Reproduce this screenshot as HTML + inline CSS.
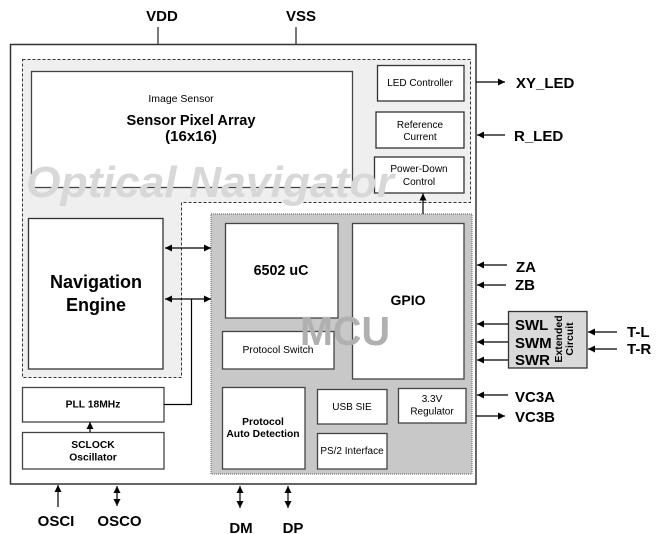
<!DOCTYPE html>
<html><head><meta charset="utf-8"><style>
html,body{margin:0;padding:0;background:#fff;}
svg{display:block;}
text{font-family:"Liberation Sans",Arial,sans-serif;fill:#000;}
.b{font-weight:bold;}
</style></head><body>
<svg width="659" height="534" viewBox="0 0 659 534" xmlns="http://www.w3.org/2000/svg">
<defs>
<marker id="ah" viewBox="0 0 10 10" refX="10" refY="5" markerWidth="7" markerHeight="7" markerUnits="userSpaceOnUse" orient="auto-start-reverse">
<path d="M0,0 L10,5 L0,10 z" fill="#000"/>
</marker>
</defs>
<!-- VDD VSS -->
<line x1="158" y1="27" x2="158" y2="44" stroke="#222" stroke-width="1.2"/>
<line x1="296" y1="27" x2="296" y2="44" stroke="#222" stroke-width="1.2"/>
<text x="162" y="21" class="b" font-size="15" text-anchor="middle">VDD</text>
<text x="301" y="21" class="b" font-size="15" text-anchor="middle">VSS</text>
<!-- outer box -->
<rect x="10.5" y="44.5" width="465.5" height="439.5" fill="#fff" stroke="#333" stroke-width="1.5"/>
<!-- optical navigator dashed region -->
<path d="M22.5,59.5 H470.5 V202.5 H181.5 V377.5 H22.5 Z" fill="#efefef" stroke="#333" stroke-width="1" stroke-dasharray="3,2"/>
<!-- sensor box -->
<rect x="31.5" y="71.5" width="321" height="116" fill="#fff" stroke="#444" stroke-width="1.3"/>
<text x="181" y="102" font-size="10.5" text-anchor="middle">Image Sensor</text>
<text x="191" y="125" class="b" font-size="15" text-anchor="middle" textLength="129" lengthAdjust="spacingAndGlyphs">Sensor Pixel Array</text>
<text x="191" y="141" class="b" font-size="15" text-anchor="middle">(16x16)</text>
<!-- right top boxes -->
<rect x="377.5" y="65.5" width="86.5" height="35.5" fill="#fff" stroke="#333" stroke-width="1.3"/>
<text x="420" y="86" font-size="10" text-anchor="middle">LED Controller</text>
<rect x="376" y="112" width="88" height="36" fill="#fff" stroke="#333" stroke-width="1.3"/>
<text x="420" y="128" font-size="10" text-anchor="middle">Reference</text>
<text x="420" y="140" font-size="10" text-anchor="middle">Current</text>
<rect x="374.5" y="157" width="89.5" height="36" fill="#fff" stroke="#333" stroke-width="1.3"/>
<text x="419" y="172" font-size="10" text-anchor="middle">Power-Down</text>
<text x="419" y="185" font-size="10" text-anchor="middle">Control</text>
<!-- watermark -->
<text x="26" y="197" class="b" font-style="italic" font-size="44" fill="#d8d8d8" style="fill:#d8d8d8" textLength="368" lengthAdjust="spacingAndGlyphs">Optical Navigator</text>
<!-- Navigation engine -->
<rect x="28.5" y="218.5" width="134.5" height="150.5" fill="#fff" stroke="#333" stroke-width="1.3"/>
<text x="96" y="288" class="b" font-size="18" text-anchor="middle">Navigation</text>
<text x="96" y="311" class="b" font-size="18" text-anchor="middle">Engine</text>
<!-- MCU -->
<rect x="211" y="214" width="261" height="260" fill="#c8c8c8" stroke="#777" stroke-width="1.2" stroke-dasharray="1,1"/>
<rect x="225.5" y="223.5" width="112.5" height="94.5" fill="#fff" stroke="#444" stroke-width="1.3"/>
<text x="281" y="275" class="b" font-size="14.3" text-anchor="middle">6502 uC</text>
<rect x="222.5" y="331.5" width="111.5" height="37.5" fill="#fff" stroke="#444" stroke-width="1.3"/>
<text x="278" y="353" font-size="10.3" text-anchor="middle">Protocol Switch</text>
<rect x="352.5" y="223.5" width="111.5" height="155.5" fill="#fff" stroke="#444" stroke-width="1.3"/>
<text x="408" y="305" class="b" font-size="14" text-anchor="middle">GPIO</text>
<text x="345" y="345" class="b" font-size="41" text-anchor="middle" fill="#b0b0b0" style="fill:#b0b0b0" textLength="90" lengthAdjust="spacingAndGlyphs">MCU</text>
<rect x="222.5" y="387.5" width="82.5" height="81.5" fill="#fff" stroke="#444" stroke-width="1.3"/>
<text x="263" y="425" class="b" font-size="10.3" text-anchor="middle">Protocol</text>
<text x="263" y="437" class="b" font-size="10.3" text-anchor="middle">Auto Detection</text>
<rect x="317.5" y="389.5" width="69.5" height="34.5" fill="#fff" stroke="#444" stroke-width="1.3"/>
<text x="352" y="410" font-size="10" text-anchor="middle">USB SIE</text>
<rect x="317.5" y="433.5" width="69.5" height="35.5" fill="#fff" stroke="#444" stroke-width="1.3"/>
<text x="352" y="454" font-size="10" text-anchor="middle">PS/2 Interface</text>
<rect x="398.5" y="388.5" width="67.5" height="34.5" fill="#fff" stroke="#444" stroke-width="1.3"/>
<text x="432" y="402" font-size="10" text-anchor="middle">3.3V</text>
<text x="432" y="414.5" font-size="10" text-anchor="middle">Regulator</text>
<!-- PLL & SCLOCK -->
<rect x="22.5" y="387.5" width="141.5" height="34.5" fill="#fff" stroke="#444" stroke-width="1.3"/>
<text x="93" y="407.5" class="b" font-size="10.3" text-anchor="middle">PLL 18MHz</text>
<rect x="22.5" y="432.5" width="141.5" height="36.5" fill="#fff" stroke="#444" stroke-width="1.3"/>
<text x="93" y="448" class="b" font-size="10.3" text-anchor="middle">SCLOCK</text>
<text x="93" y="460.5" class="b" font-size="10.3" text-anchor="middle">Oscillator</text>
<!-- internal connectors -->
<g stroke="#000" stroke-width="1.2" fill="none">
<line x1="90" y1="432" x2="90" y2="422" marker-end="url(#ah)"/>
<line x1="165" y1="248" x2="211" y2="248" marker-start="url(#ah)" marker-end="url(#ah)"/>
<line x1="165" y1="299" x2="211" y2="299" marker-start="url(#ah)" marker-end="url(#ah)"/>
<polyline points="191.5,299 191.5,404.5 164,404.5"/>
<line x1="423" y1="214" x2="423" y2="193.5" marker-end="url(#ah)"/>
<!-- right side -->
<line x1="476" y1="82" x2="505" y2="82" marker-end="url(#ah)"/>
<line x1="505" y1="135" x2="477" y2="135" marker-end="url(#ah)"/>
<line x1="507" y1="265" x2="477" y2="265" marker-end="url(#ah)"/>
<line x1="506" y1="285" x2="477" y2="285" marker-end="url(#ah)"/>
<line x1="508" y1="324" x2="477" y2="324" marker-end="url(#ah)"/>
<line x1="508" y1="342" x2="477" y2="342" marker-end="url(#ah)"/>
<line x1="508" y1="360" x2="477" y2="360" marker-end="url(#ah)"/>
<line x1="617" y1="332" x2="588" y2="332" marker-end="url(#ah)"/>
<line x1="617" y1="349" x2="588" y2="349" marker-end="url(#ah)"/>
<line x1="508" y1="395" x2="477" y2="395" marker-end="url(#ah)"/>
<line x1="476" y1="416" x2="505" y2="416" marker-end="url(#ah)"/>
<!-- bottom -->
<line x1="58" y1="507" x2="58" y2="485" marker-end="url(#ah)"/>
<line x1="117" y1="486" x2="117" y2="506" marker-start="url(#ah)" marker-end="url(#ah)"/>
<line x1="240" y1="486" x2="240" y2="508" marker-start="url(#ah)" marker-end="url(#ah)"/>
<line x1="288" y1="486" x2="288" y2="508" marker-start="url(#ah)" marker-end="url(#ah)"/>
</g>
<!-- extended circuit -->
<rect x="508.5" y="311.5" width="78.5" height="56.5" fill="#d9d9d9" stroke="#333" stroke-width="1.3"/>
<text x="515" y="330" class="b" font-size="15">SWL</text>
<text x="515" y="348" class="b" font-size="15">SWM</text>
<text x="515" y="365" class="b" font-size="15">SWR</text>
<text transform="translate(562,339) rotate(-90)" class="b" font-size="10.5" text-anchor="middle">Extended</text>
<text transform="translate(573,339) rotate(-90)" class="b" font-size="10.5" text-anchor="middle">Circuit</text>
<!-- right labels -->
<text x="516" y="88" class="b" font-size="15">XY_LED</text>
<text x="514" y="141" class="b" font-size="15">R_LED</text>
<text x="516" y="272" class="b" font-size="15">ZA</text>
<text x="515" y="290" class="b" font-size="15">ZB</text>
<text x="627" y="337" class="b" font-size="15">T-L</text>
<text x="627" y="354" class="b" font-size="15">T-R</text>
<text x="515" y="402" class="b" font-size="15">VC3A</text>
<text x="515" y="422" class="b" font-size="15">VC3B</text>
<!-- bottom labels -->
<text x="56" y="526" class="b" font-size="15" text-anchor="middle">OSCI</text>
<text x="119.5" y="526" class="b" font-size="15" text-anchor="middle">OSCO</text>
<text x="241" y="533" class="b" font-size="15" text-anchor="middle">DM</text>
<text x="293" y="533" class="b" font-size="15" text-anchor="middle">DP</text>
</svg>
</body></html>
